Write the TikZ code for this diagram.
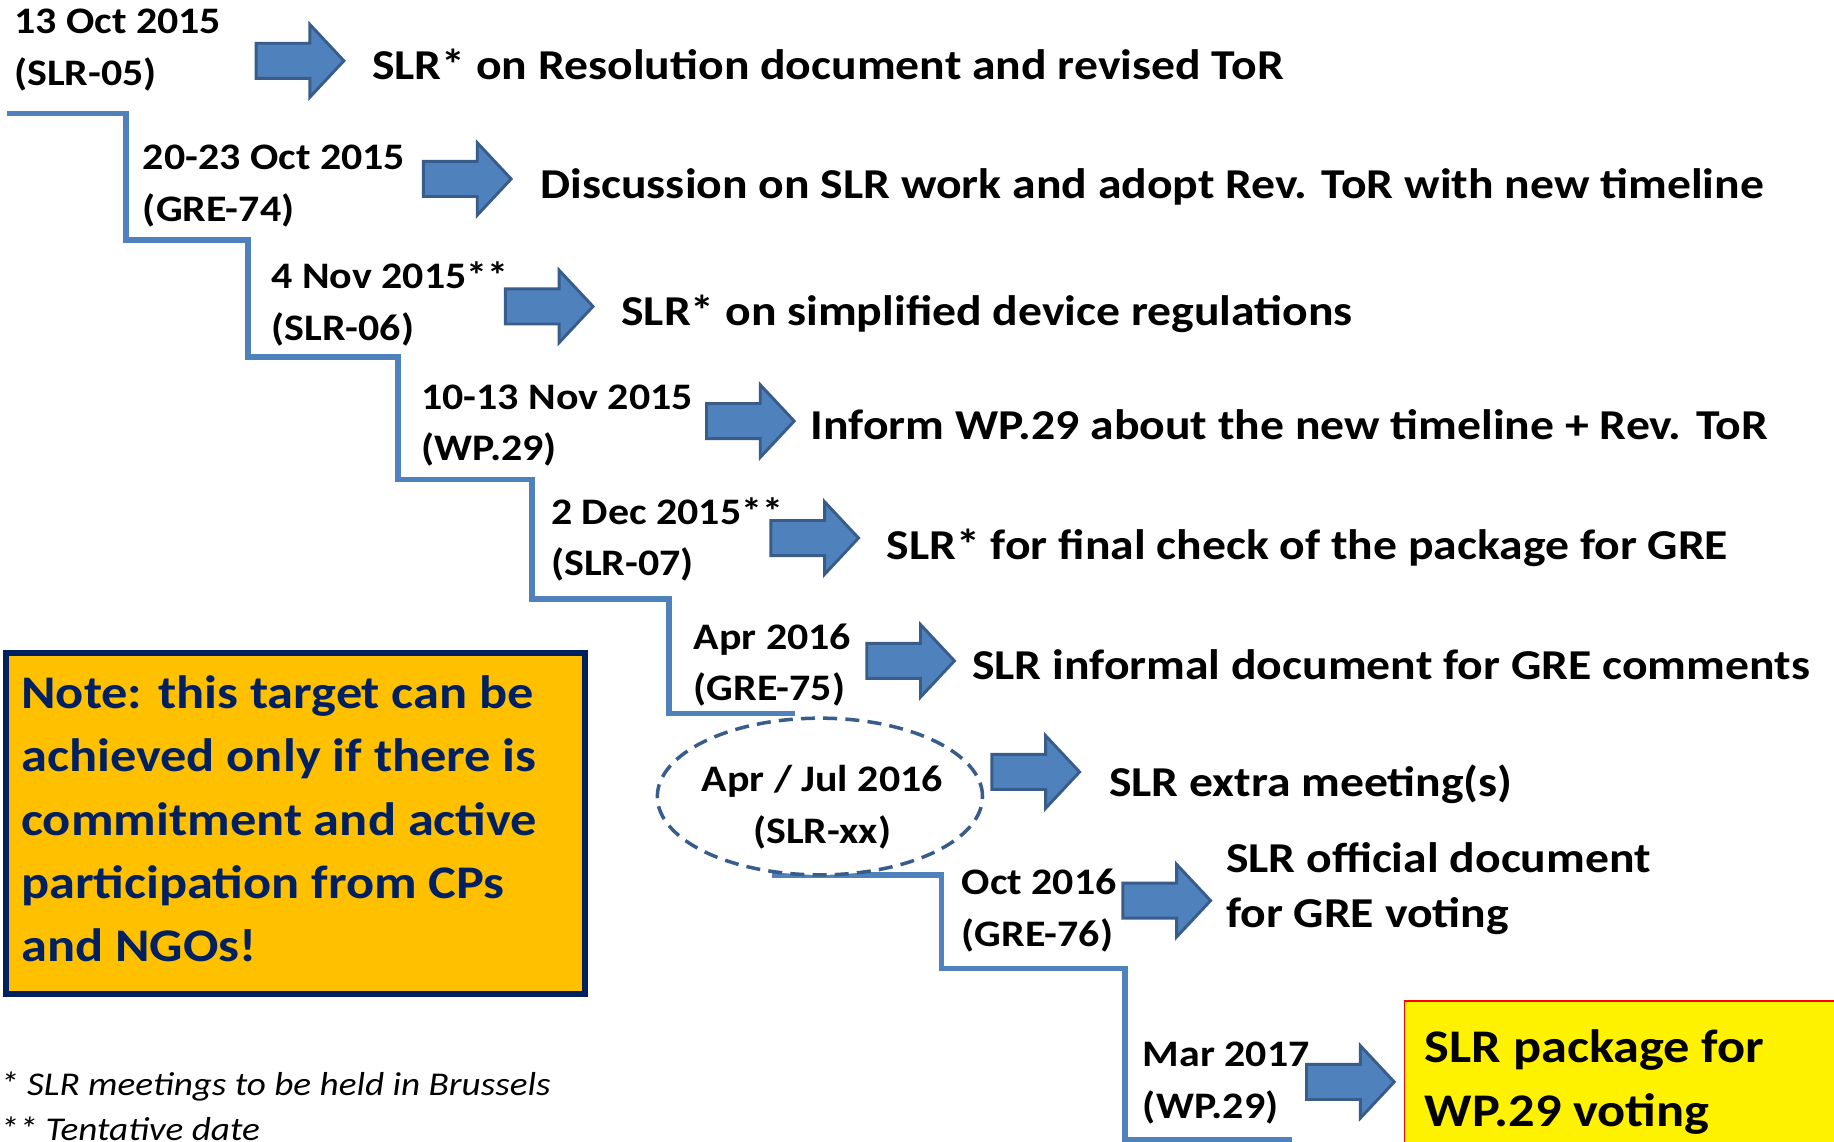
\documentclass[tikz,border=0pt]{standalone}
\usepackage{fontspec}
\setmainfont{Carlito}[FakeStretch=1.12]
\usetikzlibrary{shapes.geometric}
\definecolor{ablue}{HTML}{4F81BD}
\definecolor{aborder}{HTML}{385D8A}
\definecolor{navy}{HTML}{002060}
\definecolor{gold}{HTML}{FFC000}
\begin{document}
\begin{tikzpicture}[x=1pt,y=-1pt,
  datefont/.style={font=\fontsize{32}{44}\selectfont\bfseries, align=left, anchor=base west, inner sep=0pt},
  maintext/.style={font=\fontsize{36.4}{47}\selectfont\bfseries, align=left, anchor=base west, inner sep=0pt},
  barrow/.pic={\draw[fill=ablue, draw=aborder, line width=2.5pt, line join=miter] (0,-15) -- (46,-15) -- (46,-31) -- (75,0) -- (46,31) -- (46,15) -- (0,15) -- cycle;},
  stair/.style={draw=ablue, line width=5pt, line join=miter}]
\useasboundingbox (0,0) rectangle (1568,976);
\fill[white] (0,0) rectangle (1568,976);

% staircase
\draw[stair] (6,97) -| (108,205) -| (212,305) -| (340,410) -| (455,512) -| (572,610) -- (680,610);
\draw[stair] (660,748) -| (805,828) -| (962,975) -- (1105,975);

% row 1 (anchor = baseline of last line)
\node[datefont] (d1) at (12,73) {13 Oct 2015\\(SLR-05)};
\pic at (219,52) {barrow};
\node[maintext] (t1) at (318,68) {SLR* on Resolution document and revised ToR};
% row 2
\node[datefont] (d2) at (122,189) {20-23 Oct 2015\\(GRE-74)};
\pic at (362,153) {barrow};
\node[maintext] (t2) at (462,170) {Discussion on SLR work and adopt Rev. ToR with new timeline};
% row 3
\node[datefont] (d3) at (232,291) {4 Nov 2015**\\(SLR-06)};
\pic at (432,262) {barrow};
\node[maintext] (t3) at (531,278) {SLR* on simplified device regulations};
% row 4
\node[datefont] (d4) at (360,394) {10-13 Nov 2015\\(WP.29)};
\pic at (604,360) {barrow};
\node[maintext] (t4) at (693,376) {Inform WP.29 about the new timeline + Rev. ToR};
% row 5
\node[datefont] (d5) at (471,492) {2 Dec 2015**\\(SLR-07)};
\pic at (659,460) {barrow};
\node[maintext] (t5) at (758,478) {SLR* for final check of the package for GRE};
% row 6
\node[datefont] (d6) at (593,599) {Apr 2016\\(GRE-75)};
\pic at (741,565) {barrow};
\node[maintext] (t6) at (831,581) {SLR informal document for GRE comments};
% row 7
\node[ellipse, draw=aborder, fill=white, dash pattern=on 12pt off 7pt, line width=3pt, minimum width=278pt, minimum height=134pt] (e7) at (701,681) {};
\node[datefont, align=center, anchor=base] (d7) at (703,721) {Apr / Jul 2016\\(SLR-xx)};
\pic at (848,660) {barrow};
\node[maintext] (t7) at (948,681) {SLR extra meeting(s)};
% row 8
\node[datefont] (d8) at (822,809) {Oct 2016\\(GRE-76)};
\pic at (960,770) {barrow};
\node[maintext] (t8) at (1048,793) {SLR official document\\for GRE voting};
% row 9
\node[datefont] (d9) at (977,956) {Mar 2017\\(WP.29)};
\pic at (1117,925) {barrow};
\node[draw=red, fill=yellow, line width=1.5pt, anchor=north west, minimum width=420pt, minimum height=150pt, inner sep=0pt] (yb) at (1200,855) {};
\node[font=\fontsize{40}{55}\selectfont\bfseries, align=left, anchor=base west, inner sep=0pt] (yt) at (1218,963) {SLR package for\\WP.29 voting};

% note box
\node[draw=navy, fill=gold, line width=5pt, anchor=north west, minimum width=495pt, minimum height=292pt, inner sep=0pt] (nb) at (2.5,555.5) {};
\node[font=\fontsize{40}{54}\selectfont\bfseries, text=navy, align=left, anchor=base west, inner sep=0pt] (nt) at (18,822) {Note: this target can be\\achieved only if there is\\commitment and active\\participation from CPs\\and NGOs!};

% footnotes
\node[font=\fontsize{28.4}{38}\selectfont\itshape, align=left, anchor=base west, inner sep=0pt] (fn) at (0,975) {* SLR meetings to be held in Brussels\\** Tentative date};
\end{tikzpicture}
\end{document}
